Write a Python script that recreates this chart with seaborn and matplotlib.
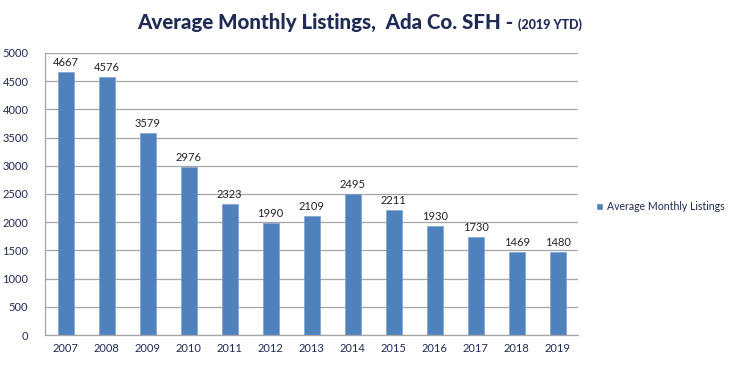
import numpy as np
import matplotlib.pyplot as plt
import pandas as pd
import seaborn as sns
from matplotlib.patches import Patch

years = ['2007', '2008', '2009', '2010', '2011', '2012', '2013',
         '2014', '2015', '2016', '2017', '2018', '2019']
listings = [4667, 4576, 3579, 2976, 2323, 1990, 2109,
            2495, 2211, 1930, 1730, 1469, 1480]
series_name = 'Average Monthly Listings'

sns.set_style('white')
plt.rcParams['font.family'] = ['Lato', 'DejaVu Sans']

navy = '#1F2A55'
bar_color = '#4F81BD'

df = pd.DataFrame({'year': years, 'value': listings})

fig = plt.figure(figsize=(7.5, 3.86), dpi=100)
ax = fig.add_axes([0.06, 0.132, 0.711, 0.731])
sns.barplot(x='year', y='value', data=df, color=bar_color, width=0.39,
            saturation=1, ax=ax, edgecolor='#7FA3D0', linewidth=0.5)

ax.set_ylim(0, 5000)
ax.set_xlim(-0.5, len(years) - 0.5)
ax.set_yticks(np.arange(0, 5001, 500))
ax.yaxis.grid(True, color='#A6A6A6', linewidth=0.9)
ax.set_axisbelow(True)
ax.set(xlabel='', ylabel='')

for s in ['top', 'right']:
    ax.spines[s].set_visible(False)
for s in ['left', 'bottom']:
    ax.spines[s].set_color('#A6A6A6')
    ax.spines[s].set_linewidth(0.9)

ax.tick_params(axis='both', labelsize=8, colors=navy, length=0, pad=6)
ax.tick_params(axis='y', pad=8)
# tick marks between categories, like the original
ax.set_xticks(np.arange(-0.5, len(years), 1), minor=True)
ax.tick_params(axis='x', which='minor', length=4, color='#A6A6A6', width=0.9)
ax.tick_params(axis='y', which='major', length=4, color='#A6A6A6', width=0.9)

for i, v in enumerate(listings):
    ax.text(i, v + 70, str(v), ha='center', va='bottom', fontsize=8, color='#222222')

fig.legend(handles=[Patch(facecolor=bar_color, label=series_name)],
           loc='center left', bbox_to_anchor=(0.782, 0.465), frameon=False,
           fontsize=7.6, handlelength=0.7, handleheight=0.7, handletextpad=0.3,
           labelcolor=navy)

t1 = fig.text(0.183, 0.925, 'Average Monthly Listings,  Ada Co. SFH - ', fontsize=14.8,
              fontweight='black', color=navy, va='baseline', ha='left')
fig.canvas.draw()
bb = t1.get_window_extent()
fig.text(bb.x1 / fig.bbox.width, 0.925, '(2019 YTD)', fontsize=9,
         fontweight='black', color=navy, va='baseline', ha='left')

plt.savefig('out.png', dpi=100)
